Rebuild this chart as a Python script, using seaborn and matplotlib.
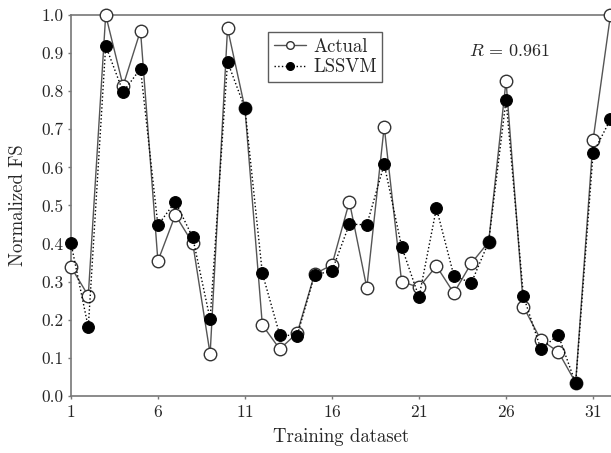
import numpy as np
import pandas as pd
import matplotlib
matplotlib.use("Agg")
import matplotlib.pyplot as plt
from matplotlib.lines import Line2D
import seaborn as sns

# data
sample = list(range(1, 33))
actual = [0.339, 0.263, 1.000, 0.814, 0.959, 0.354, 0.475, 0.401, 0.110, 0.965,
          0.755, 0.186, 0.123, 0.165, 0.320, 0.344, 0.510, 0.284, 0.707, 0.300,
          0.285, 0.341, 0.270, 0.348, 0.404, 0.827, 0.234, 0.147, 0.116, 0.035,
          0.672, 1.000]
lssvm = [0.402, 0.180, 0.919, 0.798, 0.859, 0.448, 0.510, 0.416, 0.201, 0.877,
         0.755, 0.322, 0.160, 0.158, 0.318, 0.328, 0.451, 0.449, 0.608, 0.392,
         0.259, 0.493, 0.316, 0.296, 0.404, 0.777, 0.262, 0.123, 0.160, 0.033,
         0.637, 0.726]
r_value = 0.961

df = pd.DataFrame({'sample': sample, 'Actual': actual, 'LSSVM': lssvm})

sns.set_theme(style="white")
plt.rcParams['font.family'] = ['cmr10', 'DejaVu Serif']
plt.rcParams['mathtext.fontset'] = 'cm'
plt.rcParams['axes.formatter.use_mathtext'] = True

fig = plt.figure(figsize=(6.11, 4.53), dpi=100)
ax = fig.add_axes([0.116, 0.126, 0.884, 0.841])

sns.lineplot(x='sample', y='Actual', data=df, ax=ax, color='#555555',
             linestyle='-', linewidth=1.0, marker='o', markersize=9,
             markerfacecolor='white', markeredgecolor='#333333',
             markeredgewidth=1.0, clip_on=False, zorder=3)
sns.lineplot(x='sample', y='LSSVM', data=df, ax=ax, color='black',
             linestyle=':', linewidth=1.0, marker='o', markersize=8.5,
             markerfacecolor='black', markeredgecolor='black',
             clip_on=False, zorder=4)

ax.set_xlim(1, 32.03)
ax.set_ylim(0, 1.0)
ax.set_xticks([1, 6, 11, 16, 21, 26, 31])
ax.set_yticks(np.arange(0, 1.01, 0.1))
ax.set_yticklabels([f"{v:.1f}" for v in np.arange(0, 1.01, 0.1)])
ax.tick_params(axis='both', labelsize=12.5, length=2.5, width=1.0,
               color='#777777', pad=3, bottom=True, left=True)

for s in ['left', 'bottom', 'top']:
    ax.spines[s].set_color('#777777')
    ax.spines[s].set_linewidth(1.2)
ax.spines['right'].set_visible(False)

ax.set_xlabel('Training dataset', fontsize=13.5, labelpad=6)
ax.set_ylabel('Normalized FS', fontsize=13.5, labelpad=10)

handles = [
    Line2D([], [], color='#555555', linestyle='-', linewidth=1.0, marker='o',
           markersize=5.5, markerfacecolor='white', markeredgecolor='#333333'),
    Line2D([], [], color='black', linestyle=':', linewidth=1.0, marker='o',
           markersize=5.5, markerfacecolor='black', markeredgecolor='black'),
]
leg = ax.legend(handles, ['Actual', 'LSSVM'], loc='upper left',
                bbox_to_anchor=(0.365, 0.955), borderaxespad=0,
                fontsize=13.5, frameon=True,
                fancybox=False, edgecolor='#333333', handlelength=1.7,
                handletextpad=0.4, borderpad=0.3, labelspacing=0.15)
leg.get_frame().set_linewidth(1.0)

ax.text(0.737, 0.905, f'$R\\,=\\,{r_value}$', transform=ax.transAxes,
        fontsize=13, ha='left', va='center')

fig.savefig('out.png', dpi=100)
